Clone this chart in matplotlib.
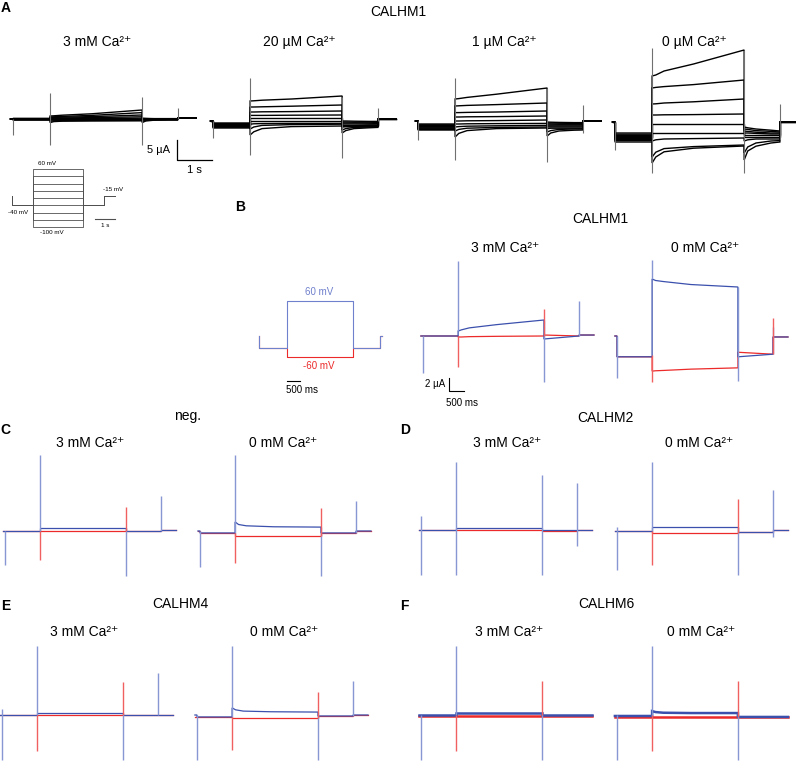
import matplotlib.pyplot as plt

plt.rcParams['font.family'] = ['Liberation Sans', 'DejaVu Sans']

W, H = 796, 761
CA = 'Ca²⁺'

# ---------------- panel A data (currents in uA, sweeps +60 ... -100 mV) -------
a_conditions = ['3 mM ' + CA, '20 µM ' + CA, '1 µM ' + CA, '0 µM ' + CA]
a_start = [0.0, -0.5, -0.5, -0.75]
a_pre = [
    [0.15, 0.1, 0.05, 0.0, -0.05, -0.1, -0.15, -0.2, -0.25],
    [-1.0, -1.15, -1.3, -1.45, -1.6, -1.75, -1.9, -2.05, -2.25],
    [-1.25, -1.45, -1.65, -1.85, -2.05, -2.25, -2.45, -2.6, -2.75],
    [-3.5, -3.8, -4.1, -4.35, -4.6, -4.85, -5.1, -5.4, -5.75],
]
a_step = [
    [[0.75, 0.8, 0.95, 1.3, 2.25], [0.5, 0.55, 0.65, 0.9, 1.6],
     [0.35, 0.4, 0.45, 0.6, 1.0], [0.2, 0.2, 0.25, 0.35, 0.55],
     [0.05, 0.05, 0.1, 0.1, 0.2], [-0.1, -0.1, -0.1, -0.1, -0.05],
     [-0.3, -0.25, -0.25, -0.2, -0.2], [-0.6, -0.45, -0.4, -0.35, -0.35],
     [-0.9, -0.65, -0.55, -0.5, -0.45]],
    [[4.5, 4.55, 4.7, 5.0, 5.75], [3.0, 3.0, 3.05, 3.2, 3.5],
     [1.75, 1.75, 1.8, 1.85, 2.0], [0.9, 0.9, 0.9, 0.95, 1.0],
     [0.25, 0.25, 0.25, 0.25, 0.25], [-0.5, -0.5, -0.5, -0.5, -0.5],
     [-1.3, -1.2, -1.15, -1.1, -1.1], [-2.5, -2.0, -1.6, -1.4, -1.3],
     [-4.0, -3.2, -2.4, -1.9, -1.75]],
    [[5.0, 5.1, 5.4, 6.2, 7.75], [3.25, 3.3, 3.4, 3.6, 4.0],
     [1.6, 1.6, 1.65, 1.75, 2.0], [0.5, 0.5, 0.55, 0.6, 0.75],
     [-0.5, -0.5, -0.45, -0.4, -0.25], [-1.25, -1.25, -1.2, -1.15, -1.1],
     [-2.0, -1.9, -1.8, -1.7, -1.6], [-3.0, -2.6, -2.3, -2.1, -2.0],
     [-4.5, -3.6, -2.9, -2.4, -2.25]],
    [[10.75, 11.0, 12.0, 13.75, 17.25], [7.75, 7.9, 8.1, 8.6, 9.75],
     [3.75, 3.8, 4.0, 4.3, 5.0], [1.0, 1.0, 1.05, 1.1, 1.25],
     [-1.25, -1.25, -1.25, -1.25, -1.25], [-3.5, -3.5, -3.5, -3.5, -3.5],
     [-5.5, -5.2, -5.0, -4.9, -4.75], [-9.5, -8.3, -7.4, -6.9, -6.5],
     [-11.0, -9.5, -8.2, -7.3, -6.75]],
]
a_tail = [
    [[0.2, 0.15, 0.1, 0.1, 0.1], [0.1, 0.1, 0.05, 0.05, 0.05],
     [0.05, 0.0, 0.0, 0.0, 0.0], [0.0, 0.0, 0.0, 0.0, -0.05],
     [-0.05, -0.05, -0.1, -0.1, -0.1], [-0.1, -0.1, -0.1, -0.1, -0.1],
     [-0.3, -0.2, -0.15, -0.15, -0.15], [-0.6, -0.35, -0.25, -0.2, -0.2],
     [-0.9, -0.5, -0.3, -0.25, -0.25]],
    [[-0.5, -0.5, -0.55, -0.6, -0.6], [-0.75, -0.75, -0.8, -0.8, -0.85],
     [-1.0, -1.0, -1.0, -1.05, -1.1], [-1.25, -1.25, -1.25, -1.3, -1.3],
     [-1.5, -1.5, -1.5, -1.5, -1.5], [-1.75, -1.75, -1.75, -1.75, -1.75],
     [-2.0, -1.9, -1.9, -1.9, -1.9], [-2.75, -2.4, -2.1, -2.0, -2.0],
     [-3.5, -2.9, -2.4, -2.2, -2.1]],
    [[-0.75, -0.8, -0.85, -0.9, -0.9], [-1.0, -1.0, -1.05, -1.1, -1.1],
     [-1.25, -1.25, -1.3, -1.3, -1.3], [-1.5, -1.5, -1.5, -1.5, -1.5],
     [-1.75, -1.75, -1.75, -1.75, -1.75], [-2.0, -2.0, -2.0, -2.0, -2.0],
     [-2.4, -2.3, -2.3, -2.3, -2.3], [-3.25, -2.9, -2.6, -2.5, -2.5],
     [-4.25, -3.5, -3.0, -2.8, -2.75]],
    [[-2.0, -2.2, -2.5, -2.8, -3.0], [-2.5, -2.6, -2.9, -3.1, -3.25],
     [-3.0, -3.1, -3.3, -3.5, -3.5], [-3.5, -3.5, -3.6, -3.75, -3.75],
     [-4.0, -4.0, -4.0, -4.0, -4.0], [-4.5, -4.5, -4.5, -4.5, -4.5],
     [-5.5, -5.2, -5.0, -5.0, -5.0], [-8.5, -7.0, -6.0, -5.5, -5.4],
     [-10.25, -8.0, -6.8, -6.0, -5.75]],
]
a_post = [0.25, 0.0, -0.5, -0.75]
# capacitive spikes (top, bottom): init, on, off, tail
a_spikes = [
    [(0.0, -4.0), (6.5, -6.5), (5.5, -6.5), (2.75, 0.0)],
    [(-0.5, -4.75), (10.25, -9.0), (5.5, -9.75), (2.75, -0.5)],
    [(-0.5, -5.25), (10.25, -10.25), (7.75, -10.75), (3.5, -3.5)],
    [(-0.75, -7.75), (17.75, -13.5), (17.25, -13.5), (3.75, -5.25)],
]
a_times = [1.06, 3.69, 4.71, 5.23]

# voltage protocol of panel A (mV)
prot_a_levels = [60, 40, 20, 0, -20, -40, -60, -80, -100]
prot_a_times = [1.05, 3.55, 4.6, 5.15]
prot_a_hold, prot_a_tail = -40, -15

# ---------------- panels B-F data (blue = +60 mV, red = -60 mV) -------------
bf_times = [1.17, 4.03, 5.2, 5.7]
bf_names = ['B1', 'B2', 'C1', 'C2', 'D1', 'D2', 'E1', 'E2', 'F1', 'F2']
# each sweep: start, pre, step knots, tail knots, post, spikes {event: (top, bottom)}
blue_sweeps = {
    'B1': (0.0, 0.0, [0.77, 0.95, 1.25, 1.75, 2.46], [-0.46, 0.0], 0.15,
           {'init': (0, -5.7), 'on': (11.5, 0.77), 'off': (2.46, -7.1), 'tail': (5.4, 0)}),
    'B2': (0.0, -3.2, [8.77, 8.54, 8.38, 7.92, 7.54], [-3.2, -2.8], -0.15,
           {'init': (0, -6.5), 'on': (11.7, 8.77), 'off': (7.54, -6.9), 'tail': (1.4, -2.8)}),
    'C1': (0.0, 0.0, [0.46, 0.46], [0.0, 0.0], 0.15,
           {'init': (0, -5.2), 'on': (11.7, 0), 'off': (0.46, -6.9), 'tail': (5.4, 0)}),
    'C2': (0.0, -0.3, [1.4, 1.0, 0.8, 0.65, 0.6], [-0.3, -0.3], 0.0,
           {'init': (0, -5.5), 'on': (11.7, -0.3), 'off': (0.6, -6.9), 'tail': (4.6, -0.3)}),
    'D1': (0.1, 0.1, [0.46, 0.46], [0.1, 0.1], 0.1,
           {'init': (2.3, -6.8), 'on': (10.6, -6.8), 'off': (8.6, -6.8), 'tail': (7.4, -2.3)}),
    'D2': (0.0, 0.0, [0.6, 0.6], [-0.1, -0.1], 0.15,
           {'init': (0.6, -6.0), 'on': (10.6, 0), 'off': (0.6, -6.8), 'tail': (6.3, -0.9)}),
    'E1': (0.0, 0.0, [0.3, 0.3], [0.0, 0.0], 0.0,
           {'init': (0.9, -6.9), 'on': (10.6, 0), 'off': (0.3, -6.9), 'tail': (6.5, 0)}),
    'E2': (0.0, -0.3, [1.1, 0.8, 0.6, 0.5, 0.45], [-0.15, -0.15], 0.0,
           {'init': (0, -6.9), 'on': (10.6, -0.3), 'off': (0.45, -6.9), 'tail': (5.2, -0.15)}),
    'F1': (0.0, 0.0, [0.3, 0.3], [0.0, 0.0], 0.0,
           {'init': (0, -6.9), 'on': (10.6, 0), 'off': (0.3, -6.9)}),
    'F2': (-0.15, -0.15, [0.6, 0.45, 0.35, 0.3, 0.3], [-0.3, -0.3], -0.3,
           {'init': (0, -6.9), 'on': (10.6, -0.15), 'off': (0.3, -6.9)}),
}
red_sweeps = {
    'B1': (0.0, 0.0, [-0.15, -0.15, -0.1, -0.05, 0.0], [0.15, 0.0], 0.15,
           {'on': (0, -4.8), 'off': (4.15, 0)}),
    'B2': (0.0, -3.2, [-5.4, -5.35, -5.3, -5.1, -4.9], [-2.5, -2.8], -0.15,
           {'on': (-2.9, -7.1), 'tail': (2.8, -2.8)}),
    'C1': (0.0, 0.0, [0.0, 0.0], [0.0, 0.0], 0.15,
           {'on': (0, -4.5), 'off': (3.7, 0)}),
    'C2': (0.0, -0.3, [-0.77, -0.77], [-0.3, -0.3], 0.0,
           {'on': (-0.3, -4.9), 'off': (3.5, -0.77)}),
    'D1': (0.1, 0.1, [0.15, 0.15], [0.05, 0.05], 0.1, {}),
    'D2': (0.0, 0.0, [-0.3, -0.3], [-0.1, -0.1], 0.15,
           {'on': (0, -5.2), 'off': (4.9, -0.3)}),
    'E1': (0.0, 0.0, [0.0, 0.0], [0.0, 0.0], 0.0,
           {'on': (0, -5.5), 'off': (5.1, 0)}),
    'E2': (-0.3, -0.3, [-0.45, -0.45], [-0.15, -0.15], 0.0,
           {'on': (-0.3, -5.4), 'off': (3.5, -0.45)}),
    'F1': (-0.1, -0.1, [-0.15, -0.15], [-0.1, -0.1], -0.1,
           {'on': (0, -5.5), 'off': (5.2, 0)}),
    'F2': (-0.3, -0.3, [-0.3, -0.3], [-0.3, -0.3], -0.3,
           {'on': (0, -5.5), 'off': (5.2, -0.3)}),
}

# voltage protocol of panel B (mV)
prot_b_levels = [-60, 60]
prot_b_times = [1.08, 3.62, 4.65, 4.73]
prot_b_hold, prot_b_tail = -40, -15

# ---------------- layout (pixels) -------------------------------------------
a_x0 = [13, 213, 418, 615]
bf_layout = {  # init-spike x, zero-current y, box top, box bottom
    'B1': (423, 336, 250, 400), 'B2': (617, 336, 250, 400),
    'C1': (5, 531, 448, 585), 'C2': (200, 531, 448, 585),
    'D1': (421, 531, 448, 585), 'D2': (617, 531, 448, 585),
    'E1': (2, 715, 640, 761), 'E2': (197, 715, 640, 761),
    'F1': (421, 715, 640, 761), 'F2': (617, 715, 640, 761),
}
STEP_FRAC = {2: [0, 1], 5: [0, 0.04, 0.13, 0.45, 1]}
TAIL_FRAC = {2: [0, 1], 5: [0, 0.1, 0.33, 0.75, 1]}

BLUE = '#3b50ad'
BLUE_SPIKE = '#8797d4'
BLUE_PROT = '#6f80cc'
RED = '#ec2a2a'
RED_SPIKE = '#f06060'

fig = plt.figure(figsize=(W / 100, H / 100), dpi=100)


def px_axes(x0, y0, px_x, px_y, left, right, top, bottom):
    ax = fig.add_axes([left / W, 1 - bottom / H, (right - left) / W, (bottom - top) / H])
    ax.set_xlim((left - x0) / px_x, (right - x0) / px_x)
    ax.set_ylim((y0 - bottom) / px_y, (y0 - top) / px_y)
    ax.axis('off')
    return ax


def draw_sweep(ax, times, start, pre, step, tail, post, color, lw):
    t_on, t_off, t_tail, t_end = times
    xs = [-0.07, 0, 0, t_on]
    xs += [t_on + f * (t_off - t_on) for f in STEP_FRAC[len(step)]]
    xs += [t_off + f * (t_tail - t_off) for f in TAIL_FRAC[len(tail)]]
    xs += [t_tail, t_end]
    ys = [start, start, pre, pre] + list(step) + list(tail) + [post, post]
    ax.plot(xs, ys, color=color, lw=lw, solid_joinstyle='miter')


def label(x, y, s, size=10, **kw):
    fig.text(x / W, 1 - y / H, s, ha='center', va='center', fontsize=size, **kw)


# ---------------- panel A ---------------------------------------------------
for i in range(4):
    ax = px_axes(a_x0[i], 119, 35, 4, a_x0[i] - 6, a_x0[i] + 186, 40, 180)
    for k in range(9):
        draw_sweep(ax, a_times, a_start[i], a_pre[i][k], a_step[i][k],
                   a_tail[i][k], a_post[i], 'black', 1.0)
    ev_t = [0] + a_times[:3]
    for t, (top, bot) in zip(ev_t, a_spikes[i]):
        ax.vlines(t, bot, top, color='#707070', lw=0.8)
    if i == 0:
        sx = 4.69
        ax.plot([sx, sx, sx + 1], [-5.25, -10.25, -10.25], color='black', lw=0.9,
                clip_on=False)
        ax.text(sx - 0.2, -7.75, '5 µA', ha='right', va='center', fontsize=8)
        ax.text(sx + 0.5, -11.5, '1 s', ha='center', va='top', fontsize=8)

label(6, 8, 'A', 10, fontweight='bold')
label(398, 12, 'CALHM1', 10)
for x, s in zip([97, 299, 504, 694], a_conditions):
    label(x, 42, s, 10)

# voltage protocol inset
axp = px_axes(12, 169, 20, 0.3625, 0, 135, 155, 240)
axp.set_ylim(axp.get_ylim()[0] + 60, axp.get_ylim()[1] + 60)
t1, t2, t3, t4 = prot_a_times
for v in prot_a_levels:
    axp.plot([0, 0, t1, t1, t2, t2, t3, t3, t4],
             [prot_a_tail, prot_a_hold, prot_a_hold, v, v, prot_a_hold,
              prot_a_hold, prot_a_tail, prot_a_tail], color='#505050', lw=0.6)
axp.text(1.75, 76, '60 mV', ha='center', va='center', fontsize=4.5)
axp.text(5.05, 4, '-15 mV', ha='center', va='center', fontsize=4.5)
axp.text(0.3, -59, '-40 mV', ha='center', va='center', fontsize=4.5)
axp.text(2.0, -114, '-100 mV', ha='center', va='center', fontsize=4.5)
axp.plot([4.15, 5.15], [-78, -78], color='#505050', lw=0.8)
axp.text(4.65, -97, '1 s', ha='center', va='center', fontsize=4.5)

# ---------------- panel B voltage protocol ----------------------------------
axb = px_axes(259, 329, 26, 0.467, 250, 395, 280, 405)
t1, t2, t3, t4 = prot_b_times
for v, c in zip(prot_b_levels, [RED, BLUE_PROT]):
    axb.plot([0, 0, t1, t1, t2, t2, t3, t3, t4],
             [prot_b_tail, prot_b_hold, prot_b_hold, v, v, prot_b_hold,
              prot_b_hold, prot_b_tail, prot_b_tail], color=c, lw=0.8)
axb.text(2.31, 79, '60 mV', ha='center', va='center', fontsize=7, color=BLUE_PROT)
axb.text(2.31, -79, '-60 mV', ha='center', va='center', fontsize=7, color=RED)
axb.plot([1.08, 1.58], [-111, -111], color='black', lw=0.8)
axb.text(1.65, -131, '500 ms', ha='center', va='center', fontsize=7)

label(240, 207, 'B', 10, fontweight='bold')
label(600, 219, 'CALHM1', 10)
label(505, 248, '3 mM ' + CA, 10)
label(705, 248, '0 mM ' + CA, 10)

# ---------------- panels B-F current traces ---------------------------------
ev_keys = {'init': 0, 'on': 0, 'off': 1, 'tail': 2}
for name in bf_names:
    x0, y0, top, bottom = bf_layout[name]
    ax = px_axes(x0, y0, 30, 6.5, x0 - 6, x0 + 176, top, bottom)
    lw = 1.8 if name.startswith('F') else 0.9
    for sw, col in [(red_sweeps[name], RED), (blue_sweeps[name], BLUE)]:
        start, pre, step, tail, post, _ = sw
        draw_sweep(ax, bf_times, start, pre, step, tail, post, col, lw)
    for sw, col in [(blue_sweeps[name], BLUE_SPIKE), (red_sweeps[name], RED_SPIKE)]:
        for ev, (hi, lo) in sw[5].items():
            t = 0 if ev == 'init' else bf_times[ev_keys[ev]]
            ax.vlines(t, lo, hi, color=col, lw=1.0)
    if name == 'B1':
        ax.plot([0.87, 0.87, 1.37], [-6.5, -8.5, -8.5], color='black', lw=0.8,
                clip_on=False)
        ax.text(0.75, -7.4, '2 µA', ha='right', va='center', fontsize=7)
        ax.text(1.3, -9.5, '500 ms', ha='center', va='top', fontsize=7)

label(188, 416, 'neg.', 10)
label(5, 430, 'C', 10, fontweight='bold')
label(90, 443, '3 mM ' + CA, 10)
label(283, 443, '0 mM ' + CA, 10)

label(605, 418, 'CALHM2', 10)
label(405, 430, 'D', 10, fontweight='bold')
label(507, 443, '3 mM ' + CA, 10)
label(699, 443, '0 mM ' + CA, 10)

label(6, 606, 'E', 10, fontweight='bold')
label(180, 604, 'CALHM4', 10)
label(84, 632, '3 mM ' + CA, 10)
label(284, 632, '0 mM ' + CA, 10)

label(404, 606, 'F', 10, fontweight='bold')
label(606, 604, 'CALHM6', 10)
label(509, 632, '3 mM ' + CA, 10)
label(701, 632, '0 mM ' + CA, 10)

fig.savefig('out.png', dpi=100)
